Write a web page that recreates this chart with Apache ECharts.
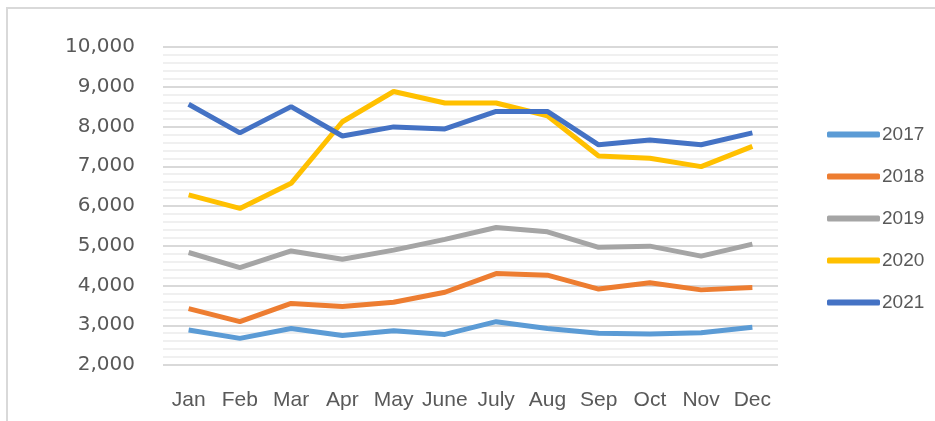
<!DOCTYPE html>
<html>
<head>
<meta charset="utf-8">
<script src="https://cdn.jsdelivr.net/npm/echarts@6/dist/echarts.min.js"></script>
<style>
  html, body { margin: 0; padding: 0; background: #fff; }
  #chart { width: 935px; height: 421px; }
</style>
</head>
<body>
<div id="chart"></div>
<script>
// data
const months = ["Jan", "Feb", "Mar", "Apr", "May", "June", "July", "Aug", "Sep", "Oct", "Nov", "Dec"];
const years = ["2017", "2018", "2019", "2020", "2021"];
const y2017 = [2880, 2670, 2920, 2740, 2860, 2770, 3090, 2920, 2800, 2780, 2810, 2950];
const y2018 = [3420, 3090, 3550, 3470, 3580, 3830, 4300, 4260, 3910, 4070, 3890, 3950];
const y2019 = [4830, 4450, 4870, 4660, 4890, 5160, 5460, 5350, 4960, 4990, 4740, 5040];
const y2020 = [6280, 5940, 6570, 8120, 8880, 8590, 8590, 8270, 7260, 7200, 6990, 7500];
const y2021 = [8560, 7840, 8500, 7760, 7990, 7940, 8380, 8380, 7540, 7660, 7540, 7840];
const colors = ["#5B9BD5", "#ED7D31", "#A5A5A5", "#FFC000", "#4472C4"];

const myChart = echarts.init(document.getElementById("chart"));

const seriesData = [y2017, y2018, y2019, y2020, y2021];

const option = {
  animation: false,
  color: colors,
  // light frame of the chart area, cut off at right and bottom
  graphic: [
    {
      type: "rect",
      shape: { x: 7, y: 8, width: 1000, height: 500 },
      style: { fill: "none", stroke: "#d9d9d9", lineWidth: 2 },
      silent: true,
    },
  ],
  grid: {
    left: 163,
    right: 157,
    top: 47,
    bottom: 56,
  },
  legend: {
    orient: "vertical",
    left: 822,
    top: 120,
    itemWidth: 53,
    itemHeight: 6,
    itemGap: 23,
    icon: "roundRect",
    data: years,
    textStyle: {
      color: "#595959",
      fontSize: 19,
      fontFamily: "Liberation Sans, sans-serif",
      padding: [0, 0, 0, -3],
    },
  },
  xAxis: {
    type: "category",
    data: months,
    boundaryGap: true,
    axisLine: { show: false },
    axisTick: { show: false },
    axisLabel: {
      interval: 0,
      margin: 25,
      color: "#595959",
      fontSize: 21,
      fontFamily: "Liberation Sans, sans-serif",
    },
  },
  yAxis: {
    type: "value",
    min: 2000,
    max: 10000,
    interval: 1000,
    axisLine: { show: false },
    axisTick: { show: false },
    axisLabel: {
      margin: 28,
      color: "#595959",
      fontSize: 20,
      fontFamily: "DejaVu Sans, sans-serif",
      formatter: (v) => v.toLocaleString("en-US"),
    },
    splitLine: {
      lineStyle: { color: "#d9d9d9", width: 2 },
    },
    minorTick: { show: false, splitNumber: 5 },
    minorSplitLine: {
      show: true,
      lineStyle: { color: "#f0f0f0", width: 2 },
    },
  },
  series: years.map((name, i) => ({
    name: name,
    type: "line",
    data: seriesData[i],
    showSymbol: false,
    lineStyle: { width: 5, color: colors[i] },
    itemStyle: { color: colors[i] },
  })),
};

myChart.setOption(option);
</script>
</body>
</html>
